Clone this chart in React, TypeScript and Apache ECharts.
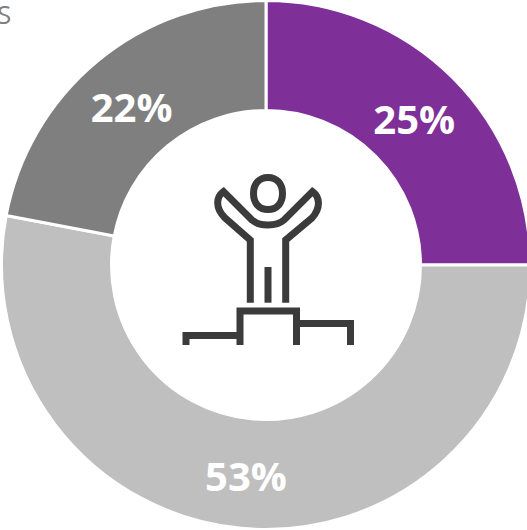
import React, { useEffect, useRef } from "react";
import * as echarts from "echarts";

const categories = ["Purple", "Light gray", "Gray"];
const values = [25, 53, 22];
const colors = ["#7F3098", "#BFBFBF", "#7F7F7F"];
const labelOffsets = [[-2, 4], [0, -1], [1, 5]];
const clippedLegendText = "S";

const bodyPath =
  "M250.3 302.7 L250.3 240 L225 218 C215 208 216 197 223.5 191.5 L252 220 C258 224.5 262 225 268 225 C274 225 279 224.5 284 220 L312.5 191.5 C320 197 321 208 312 218 L285.7 240 L285.7 302.7";
const limbPath = "M268 267 L268 302.7";
const stepsPath =
  "M186 345 L186 335.5 L240 335.5 M240 345 L240 311 L296.5 311 L296.5 345 M296.5 323.5 L350.5 323.5 L350.5 345";
const headPath =
  "M268 177.5 C277 177.5 282.5 184 282.5 193.5 C282.5 203 277 209.5 268 209.5 C259 209.5 253.5 203 253.5 193.5 C253.5 184 259 177.5 268 177.5 Z";

export default function App() {
  const ref = useRef<HTMLDivElement>(null);
  useEffect(() => {
    const chart = echarts.init(ref.current!, undefined, { renderer: "svg" });
    echarts.graphic.registerShape("iconBody", echarts.graphic.extendPath(bodyPath, {}) as any);
    echarts.graphic.registerShape("iconLimb", echarts.graphic.extendPath(limbPath, {}) as any);
    echarts.graphic.registerShape("iconSteps", echarts.graphic.extendPath(stepsPath, {}) as any);
    echarts.graphic.registerShape("iconHead", echarts.graphic.extendPath(headPath, {}) as any);
    const iconStyle = { fill: "none", stroke: "#3B3B3B", lineWidth: 7, lineJoin: "miter", lineCap: "butt" };
    chart.setOption({
      animation: false,
      backgroundColor: "#ffffff",
      graphic: [
        { type: "text", left: -3, top: 1, style: { text: clippedLegendText, fontFamily: "Open Sans", fontSize: 26, fill: "#7F7F7F" } },
        { type: "iconBody", x: 0, y: 0, style: iconStyle },
        { type: "iconLimb", x: 0, y: 0, style: iconStyle },
        { type: "iconSteps", x: 0, y: 0, style: iconStyle },
        { type: "iconHead", x: 0, y: 0, style: iconStyle },
      ],
      series: [
        {
          type: "pie",
          center: [266, 265],
          radius: [154.5, 264.5],
          startAngle: 90,
          clockwise: true,
          data: categories.map((name, i) => ({
            name,
            value: values[i],
            itemStyle: { color: colors[i] },
            label: { offset: labelOffsets[i] },
          })),
          itemStyle: { borderColor: "#ffffff", borderWidth: 3 },
          label: {
            show: true,
            position: "inside",
            formatter: "{c}%",
            color: "#ffffff",
            fontFamily: "Open Sans",
            fontWeight: "bold",
            fontSize: 40,
            textBorderWidth: 0,
            textBorderColor: "transparent",
          },
          labelLine: { show: false },
          emphasis: { disabled: true },
        },
      ],
    });
    return () => chart.dispose();
  }, []);
  return <div ref={ref} style={{ position: "fixed", left: 0, top: 0, width: 527, height: 530 }} />;
}
